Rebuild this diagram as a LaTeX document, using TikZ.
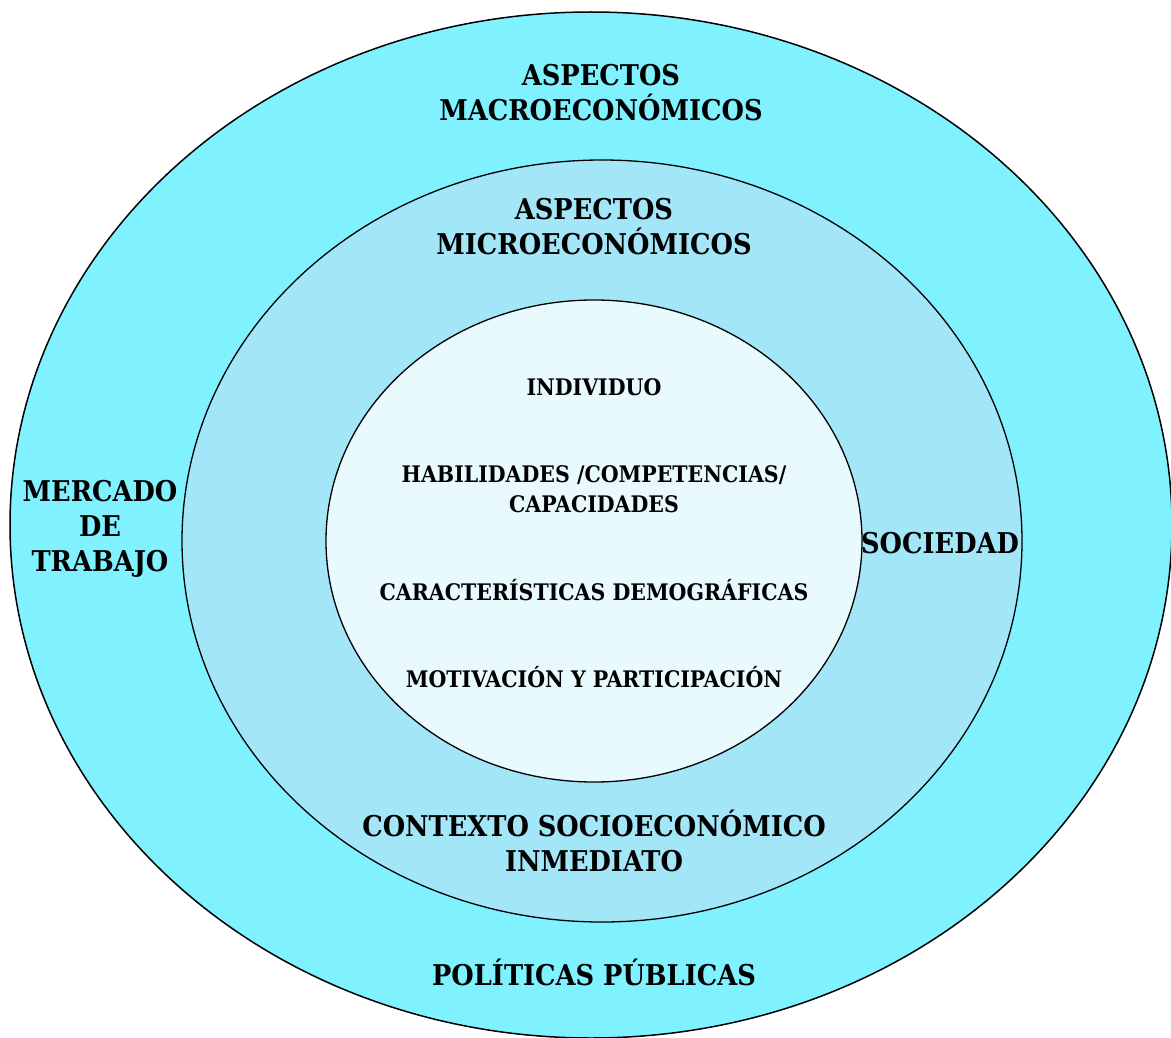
\documentclass[tikz,border=0pt]{standalone}
\usepackage{fontspec}
\setmainfont{DejaVu Serif Condensed}
\definecolor{outercyan}{HTML}{80F2FF}
\definecolor{midcyan}{HTML}{A3E6F8}
\definecolor{innercyan}{HTML}{E8FAFE}
\tikzset{
  biglabel/.style={align=center, font=\fontsize{28.6}{35}\selectfont\bfseries},
  smalllabel/.style={align=center, font=\fontsize{22.8}{30}\selectfont\bfseries}
}
\begin{document}
\begin{tikzpicture}[x=1pt, y=-1pt]

% Page (white background)
\fill[white] (0,0) rectangle (1171,1038);
\useasboundingbox (0,0) rectangle (1171,1038);

% Outer ring
\filldraw[fill=outercyan, draw=black, line width=1.5pt] (591,525) ellipse (581 and 513);

% Middle ring
\filldraw[fill=midcyan, draw=black, line width=1.3pt] (602,541) ellipse (420 and 381);

% Inner core
\filldraw[fill=innercyan, draw=black, line width=1.3pt] (594,541) ellipse (268 and 241);

% Outer ring labels
\node[biglabel] (macro) at (601,93) {ASPECTOS\\MACROECONÓMICOS};
\node[biglabel] (mercado) at (100,529) {MERCADO\\DE\\TRABAJO};
\node[biglabel] (politicas) at (594,972) {POLÍTICAS PÚBLICAS};

% Middle ring labels
\node[biglabel] (micro) at (594,227) {ASPECTOS\\MICROECONÓMICOS};
\node[biglabel] (sociedad) at (940,543) {SOCIEDAD};
\node[biglabel] (contexto) at (594,841) {CONTEXTO SOCIOECONÓMICO\\INMEDIATO};

% Inner core labels
\node[smalllabel] (individuo) at (594,387) {INDIVIDUO};
\node[smalllabel] (habilidades) at (594,489) {HABILIDADES /COMPETENCIAS/\\CAPACIDADES};
\node[smalllabel] (demograf) at (594,590) {CARACTERÍSTICAS DEMOGRÁFICAS};
\node[smalllabel] (motivacion) at (594,677) {MOTIVACIÓN Y PARTICIPACIÓN};

\end{tikzpicture}
\end{document}
